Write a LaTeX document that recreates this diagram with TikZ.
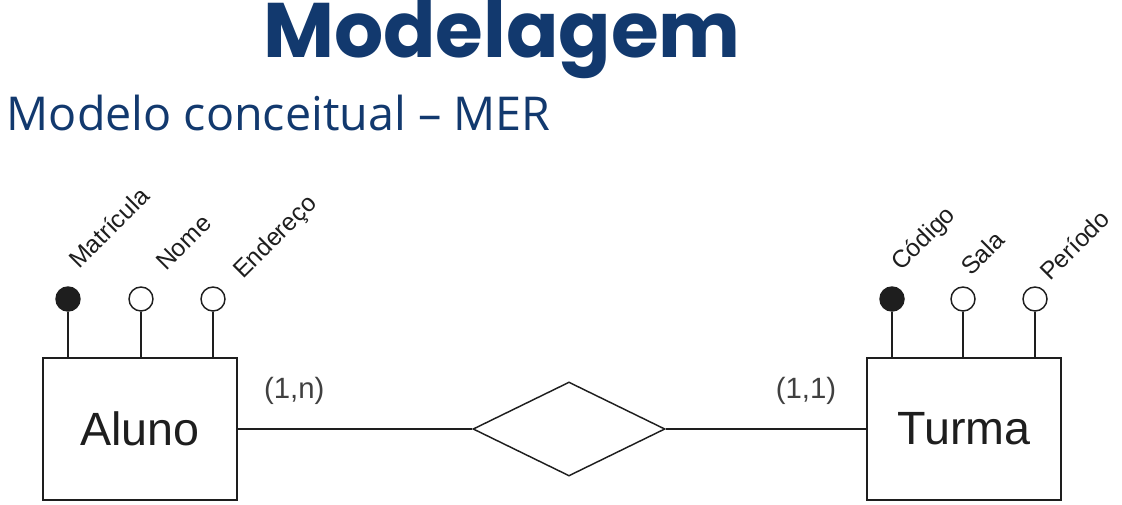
\documentclass[tikz,border=0pt]{standalone}
\usepackage{fontspec}
\setmainfont{Liberation Sans}
\newfontfamily\titlefont{Poppins}
\newfontfamily\subfont{Open Sans}
\usetikzlibrary{positioning,calc}
\usetikzlibrary{shapes.geometric}
\definecolor{titleblue}{RGB}{18,57,110}
\definecolor{ink}{RGB}{30,30,30}
\tikzset{
  ent/.style={rectangle, minimum width=145.5pt, minimum height=106.5pt, text centered, draw=ink, line width=1.4pt, text=ink, font=\fontsize{35}{40}\selectfont},
  rel/.style={diamond, minimum width=144pt, minimum height=70.5pt, inner sep=0pt, draw=ink, line width=1.1pt},
  pk/.style={circle, minimum size=18pt, inner sep=0pt, draw=ink, fill=ink, line width=1.1pt},
  attr/.style={circle, minimum size=18pt, inner sep=0pt, draw=ink, fill=white, line width=1.1pt},
  lbl/.style={anchor=base west, rotate=45, inner sep=0pt, text=ink, font=\fontsize{18.5}{20}\selectfont},
  card/.style={text=ink!85, font=\fontsize{22}{24}\selectfont},
  ln/.style={draw=ink, line width=1.3pt},
  node distance=7mm
}

\begin{document}
\begin{tikzpicture}[x=0.75pt, y=-0.75pt]
	\useasboundingbox (0,0) rectangle (1122,504);
	\node[text=titleblue, font=\titlefont\bfseries\fontsize{58}{60}\selectfont] (title) at (502,40) {Modelagem};
	\node[anchor=west, text=titleblue, font=\subfont\fontsize{35}{38}\selectfont] (subtitle) at (2,113) {Modelo conceitual – MER};
	%
	\node[ent] (aluno) at (140,429) {Aluno};
	\node[ent] (turma) at (964,429) {Turma};
	\node[rel] (rel) at (569,429) {};
	%
	\node[pk] (mat) at (68,299) {};
	\node[attr] (nome) at (141,299) {};
	\node[attr] (end) at (213,299) {};
	\node[pk] (cod) at (892,299) {};
	\node[attr] (sala) at (963,299) {};
	\node[attr] (per) at (1035,299) {};
	%
	\node[lbl] (matlbl) at ($(mat)+(11,-29)$) {Matrícula};
	\node[lbl] (nomelbl) at ($(nome)+(25,-27)$) {Nome};
	\node[lbl] (endlbl) at ($(end)+(30,-19)$) {Endereço};
	\node[lbl] (codlbl) at ($(cod)+(9,-27)$) {Código};
	\node[lbl] (salalbl) at ($(sala)+(8,-22)$) {Sala};
	\node[lbl] (perlbl) at ($(per)+(15,-17)$) {Período};
	%
	\draw[ln] (mat) -- (mat |- aluno.north);
	\draw[ln] (nome) -- (nome |- aluno.north);
	\draw[ln] (end) -- (end |- aluno.north);
	\draw[ln] (cod) -- (cod |- turma.north);
	\draw[ln] (sala) -- (sala |- turma.north);
	\draw[ln] (per) -- (per |- turma.north);
	%
	\draw[ln] (aluno) -- node[card, pos=0.24, above=14pt] {(1,n)} (rel);
	\draw[ln] (rel) -- node[card, pos=0.70, above=14pt] {(1,1)} (turma);
\end{tikzpicture}
\end{document}
